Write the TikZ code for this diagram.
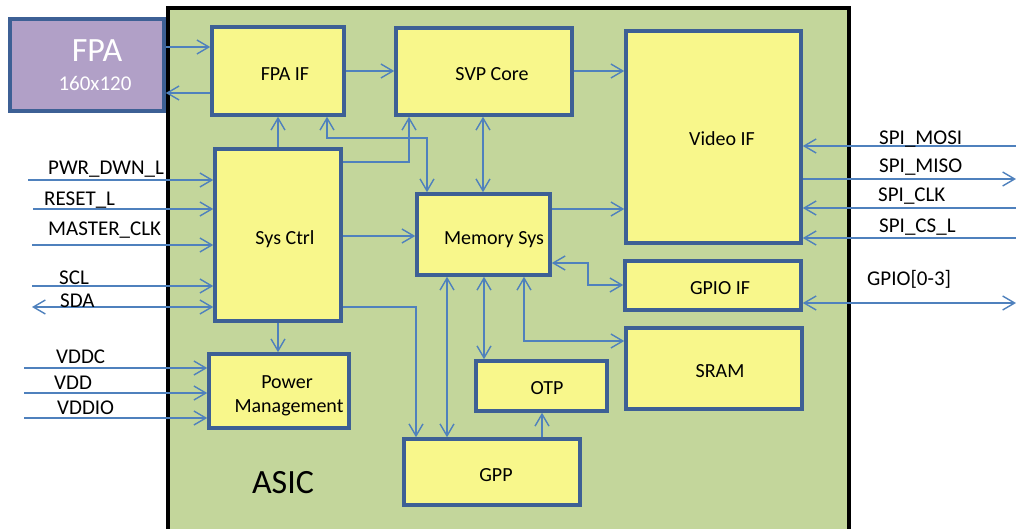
\documentclass[tikz,border=0pt]{standalone}
\usepackage{fontspec}
\setmainfont{Carlito}
\usetikzlibrary{arrows.meta}
\definecolor{asicfill}{HTML}{C3D69B}
\definecolor{boxfill}{HTML}{F8F78B}
\definecolor{boxline}{HTML}{3D6095}
\definecolor{fpafill}{HTML}{B1A0C7}
\definecolor{wireblue}{HTML}{4F81BD}
\begin{document}
\begin{tikzpicture}[x=1pt,y=-1pt,
  box/.style={draw=boxline, line width=3.5pt, fill=boxfill, inner sep=0pt},
  boxtext/.style={font=\fontsize{20}{24}\selectfont, inner sep=0pt, anchor=base},
  sig/.style={font=\fontsize{21}{25}\selectfont, inner sep=0pt, anchor=base west},
  wire/.style={draw=wireblue, line width=1.4pt},
  >={Straight Barb[length=12pt,width=14pt]}]

\clip (0,0) rectangle (1016,529);
\fill[white] (0,0) rectangle (1016,529);

% chip outline
\draw[fill=asicfill, draw=black, line width=4pt] (168,8) rectangle (849,580);
\node[font=\fontsize{34}{40}\selectfont, inner sep=0pt, anchor=base] (asiclbl) at (283,493) {ASIC};

% sensor
\node[draw=boxline, line width=3.5pt, fill=fpafill, inner sep=0pt,
      minimum width=154pt, minimum height=92pt] (fpa) at (87,65) {};
\node[font=\fontsize{34}{40}\selectfont, text=white, inner sep=0pt, anchor=base] (fpat) at (97,62) {FPA};
\node[font=\fontsize{21}{25}\selectfont, text=white, inner sep=0pt, anchor=base] (fpas) at (95,91) {160x120};

% blocks
\node[box, minimum width=132pt, minimum height=88pt] (fpaif)  at (278,71) {};
\node[box, minimum width=176pt, minimum height=87pt] (svp)    at (484,71.5) {};
\node[box, minimum width=175pt, minimum height=212pt] (video) at (713.5,137) {};
\node[box, minimum width=176pt, minimum height=49pt] (gpioif) at (713,285.5) {};
\node[box, minimum width=176pt, minimum height=81pt] (sram)   at (714,368.5) {};
\node[box, minimum width=126pt, minimum height=172pt] (sys)   at (278,235) {};
\node[box, minimum width=133pt, minimum height=81pt] (mem)    at (483.5,234.5) {};
\node[box, minimum width=140pt, minimum height=74pt] (pwr)    at (279,391) {};
\node[box, minimum width=131pt, minimum height=50pt] (otp)    at (541.5,386) {};
\node[box, minimum width=176pt, minimum height=66pt] (gpp)    at (492,472) {};

\node[boxtext] (fpaift) at (285,81) {FPA IF};
\node[boxtext] (svpt)   at (492,81) {SVP Core};
\node[boxtext] (videot) at (722,146) {Video IF};
\node[boxtext] (gpioift) at (720,294) {GPIO IF};
\node[boxtext] (sramt)  at (720,377) {SRAM};
\node[boxtext] (syst)   at (285,244) {Sys Ctrl};
\node[boxtext] (memt)   at (494,244) {Memory Sys};
\node[boxtext] (pwrt1)  at (287,388) {Power};
\node[boxtext] (pwrt2)  at (289,412) {Management};
\node[boxtext] (otpt)   at (547,394) {OTP};
\node[boxtext] (gppt)   at (496,481) {GPP};

% internal connections
\draw[wire,->] (fpa.east |- 0,47) -- (fpaif.west |- 0,47);
\draw[wire,->] (fpaif.west |- 0,93) -- (fpa.east |- 0,93);
\draw[wire,->] (fpaif.east |- 0,71) -- (svp.west |- 0,71);
\draw[wire,->] (svp.east |- 0,71) -- (video.west |- 0,71);
\draw[wire,->] (sys.north) -- (fpaif.south -| sys.north);
\draw[wire,<->] (fpaif.south -| 327,0) |- (427,138) -- (mem.north -| 427,0);
\draw[wire,->] (sys.east |- 0,162) -| (svp.south -| 409,0);
\draw[wire,<->] (svp.south -| 483,0) -- (mem.north -| 483,0);
\draw[wire,->] (mem.east |- 0,209) -- (video.west |- 0,209);
\draw[wire,->] (sys.east |- 0,236) -- (mem.west |- 0,236);
\draw[wire,<->] (mem.east |- 0,263) -| (588,285) -- (gpioif.west |- 0,285);
\draw[wire,->] (sys.east |- 0,307) -| (gpp.north -| 416,0);
\draw[wire,<->] (mem.south -| 447,0) -- (gpp.north -| 447,0);
\draw[wire,<->] (mem.south -| 484,0) -- (otp.north -| 484,0);
\draw[wire,<->] (mem.south -| 524,0) |- (sram.west |- 0,341);
\draw[wire,->] (gpp.north -| 542,0) -- (otp.south -| 542,0);
\draw[wire,->] (sys.south) -- (pwr.north -| sys.south);

% external pins
\coordinate (pdn)   at (28,180);
\coordinate (rst)   at (33,209);
\coordinate (mclk)  at (32,245);
\coordinate (scl)   at (32,286);
\coordinate (sda)   at (32,307);
\coordinate (vddc)  at (24,368);
\coordinate (vdd)   at (24,393);
\coordinate (vddio) at (24,418);
\coordinate (mosi)  at (1016,146);
\coordinate (miso)  at (1016,179);
\coordinate (sclk)  at (1016,208);
\coordinate (cs)    at (1016,238);
\coordinate (gpio)  at (1016,303);

\draw[wire,->] (pdn) -- (sys.west |- pdn);
\draw[wire,->] (rst) -- (sys.west |- rst);
\draw[wire,->] (mclk) -- (sys.west |- mclk);
\draw[wire,->] (scl) -- (sys.west |- scl);
\draw[wire,<->] (sda) -- (sys.west |- sda);
\draw[wire,->] (vddc) -- (pwr.west |- vddc);
\draw[wire,->] (vdd) -- (pwr.west |- vdd);
\draw[wire,->] (vddio) -- (pwr.west |- vddio);
\draw[wire,->] (mosi) -- (video.east |- mosi);
\draw[wire,->] (video.east |- miso) -- (miso);
\draw[wire,->] (sclk) -- (video.east |- sclk);
\draw[wire,->] (cs) -- (video.east |- cs);
\draw[wire,<->] (gpioif.east |- gpio) -- (gpio);

\node[sig] (pdnl)   at (48,175) {PWR\_DWN\_L};
\node[sig] (rstl)   at (44,206) {RESET\_L};
\node[sig] (mclkl)  at (48,236) {MASTER\_CLK};
\node[sig] (scll)   at (59,284) {SCL};
\node[sig] (sdal)   at (60,307) {SDA};
\node[sig] (vddcl)  at (56,363) {VDDC};
\node[sig] (vddl)   at (54,389) {VDD};
\node[sig] (vddiol) at (57,414) {VDDIO};
\node[sig] (mosil)  at (879,145) {SPI\_MOSI};
\node[sig] (misol)  at (879,173) {SPI\_MISO};
\node[sig] (sclkl)  at (878,202) {SPI\_CLK};
\node[sig] (csl)    at (879,233) {SPI\_CS\_L};
\node[sig] (gpiol)  at (867,285) {GPIO[0-3]};
\end{tikzpicture}
\end{document}
